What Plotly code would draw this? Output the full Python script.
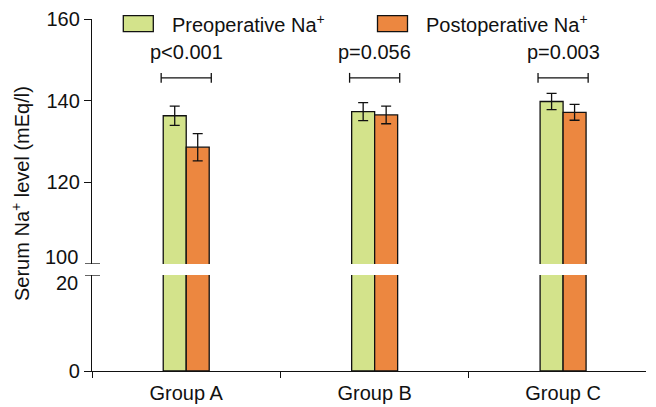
import plotly.graph_objects as go

# ---- data ----
groups = ["Group A", "Group B", "Group C"]
pre_mean = [136.3, 137.3, 139.8]
pre_sd = [2.35, 2.2, 2.0]
post_mean = [128.6, 136.5, 137.15]
post_sd = [3.35, 2.15, 1.95]
p_labels = ["p<0.001", "p=0.056", "p=0.003"]
series_names = ["Preoperative Na<sup>+</sup>", "Postoperative Na<sup>+</sup>"]
top_ticks = [100, 120, 140, 160]
bottom_ticks = [0, 20]

# ---- style ----
GREEN = "#D3E38B"
ORANGE = "#EC8740"
FONT = "Liberation Sans, Arial, sans-serif"
W, H = 656, 407
ML, MR, MT, MB = 92, 10, 19, 36
PW, PH = W - ML - MR, H - MT - MB
LW = 1.3


def px2paper_x(px):
    return (px - ML) / PW


def py2paper_y(py):
    return (H - MB - py) / PH


x = list(range(len(groups)))
BW = 0.122

fig = go.Figure()
for mean, sd, color, off, name in [
    (pre_mean, pre_sd, GREEN, -BW, series_names[0]),
    (post_mean, post_sd, ORANGE, 0.0, series_names[1]),
]:
    fig.add_trace(go.Bar(x=x, y=mean, width=BW, offset=off, yaxis="y",
                         marker=dict(color=color, line=dict(color="#111", width=LW)),
                         showlegend=False, name=name))
    fig.add_trace(go.Bar(x=x, y=mean, width=BW, offset=off, yaxis="y2",
                         marker=dict(color=color, line=dict(color="#111", width=LW)),
                         error_y=dict(type="data", array=sd, visible=True,
                                      color="#111", thickness=LW, width=5),
                         showlegend=False, name=name))

# significance brackets
BR_Y = 145.6
BR_HALF = 0.133
CAP = 1.2
bx, by = [], []
for i in x:
    bx += [i - BR_HALF, i + BR_HALF, None,
           i - BR_HALF, i - BR_HALF, None,
           i + BR_HALF, i + BR_HALF, None]
    by += [BR_Y, BR_Y, None,
           BR_Y - CAP, BR_Y + CAP, None,
           BR_Y - CAP, BR_Y + CAP, None]
fig.add_trace(go.Scatter(x=bx, y=by, yaxis="y2", mode="lines",
                         line=dict(color="#111", width=LW), showlegend=False,
                         hoverinfo="skip"))

annotations = []
for i, lab in zip(x, p_labels):
    annotations.append(dict(x=i, y=152.0, xref="x", yref="y2", text=lab,
                            showarrow=False, xanchor="center", yanchor="middle",
                            font=dict(size=20, color="#111", family=FONT)))

# break labels
annotations.append(dict(x=0, y=top_ticks[0], xref="paper", yref="y2",
                        text=str(top_ticks[0]), showarrow=False,
                        xanchor="right", yanchor="middle", xshift=-12, yshift=7,
                        font=dict(size=20, color="#111", family=FONT)))
annotations.append(dict(x=0, y=bottom_ticks[1], xref="paper", yref="y",
                        text=str(bottom_ticks[1]), showarrow=False,
                        xanchor="right", yanchor="middle", xshift=-12, yshift=-8,
                        font=dict(size=20, color="#111", family=FONT)))

# y title
annotations.append(dict(x=px2paper_x(20), y=py2paper_y(194), xref="paper", yref="paper",
                        text="Serum Na<sup>+</sup> level (mEq/l)", textangle=-90,
                        showarrow=False, xanchor="center", yanchor="middle",
                        font=dict(size=20, color="#111", family=FONT)))

# legend (manual)
shapes = []
leg = [(123.3, 153.3, GREEN, 170, series_names[0]),
       (377.5, 407.5, ORANGE, 424, series_names[1])]
for x0, x1, col, tx, name in leg:
    shapes.append(dict(type="rect", xref="paper", yref="paper",
                       x0=px2paper_x(x0), x1=px2paper_x(x1),
                       y0=py2paper_y(31.7), y1=py2paper_y(15.7),
                       fillcolor=col, line=dict(color="#111", width=LW)))
    annotations.append(dict(x=px2paper_x(tx), y=py2paper_y(24), xref="paper", yref="paper",
                            text=name, showarrow=False, xanchor="left", yanchor="middle",
                            font=dict(size=20, color="#111", family=FONT)))

# break ticks (crossing the axis line)
for yref, yv in [("y2", top_ticks[0]), ("y", bottom_ticks[1])]:
    shapes.append(dict(type="line", xref="paper", yref=yref,
                       x0=px2paper_x(85), x1=px2paper_x(100), y0=yv, y1=yv,
                       line=dict(color="#111", width=LW)))

bottom_top = (H - MB - 275) / PH
top_bottom = (H - MB - 264) / PH

fig.update_layout(
    width=W, height=H,
    margin=dict(l=ML, r=MR, t=MT, b=MB, autoexpand=False),
    paper_bgcolor="white", plot_bgcolor="white",
    barmode="overlay",
    font=dict(family=FONT, size=20, color="#111"),
    showlegend=False,
    xaxis=dict(range=[-0.5, 2.44], tickvals=x, ticktext=groups, ticks="",
               showline=True, linecolor="#111", linewidth=LW, showgrid=False,
               zeroline=False, anchor="y", ticklabelstandoff=4, automargin=False,
               minor=dict(tickvals=[-0.5, 0.5, 1.5], ticks="outside", ticklen=6,
                          tickcolor="#111", tickwidth=LW, showgrid=False),
               tickfont=dict(size=20)),
    yaxis=dict(domain=[0, bottom_top], range=[0, 20], tickvals=bottom_ticks[:1],
               ticks="outside", ticklen=7, tickwidth=LW, automargin=False,
               tickcolor="#111", showline=True, linecolor="#111", linewidth=LW,
               showgrid=False, zeroline=False, anchor="x", tickfont=dict(size=20)),
    yaxis2=dict(domain=[top_bottom, 1], range=[100, 160], tickvals=top_ticks[1:],
                ticks="outside", ticklen=7, automargin=False,
                tickwidth=LW, tickcolor="#111", showline=True, linecolor="#111",
                linewidth=LW, showgrid=False, zeroline=False, anchor="x",
                tickfont=dict(size=20)),
    shapes=shapes,
    annotations=annotations,
)

fig.write_html(
    "out.html",
    config={"displayModeBar": False},
    post_script="document.body.style.margin='0';document.body.style.overflow='hidden';",
)
